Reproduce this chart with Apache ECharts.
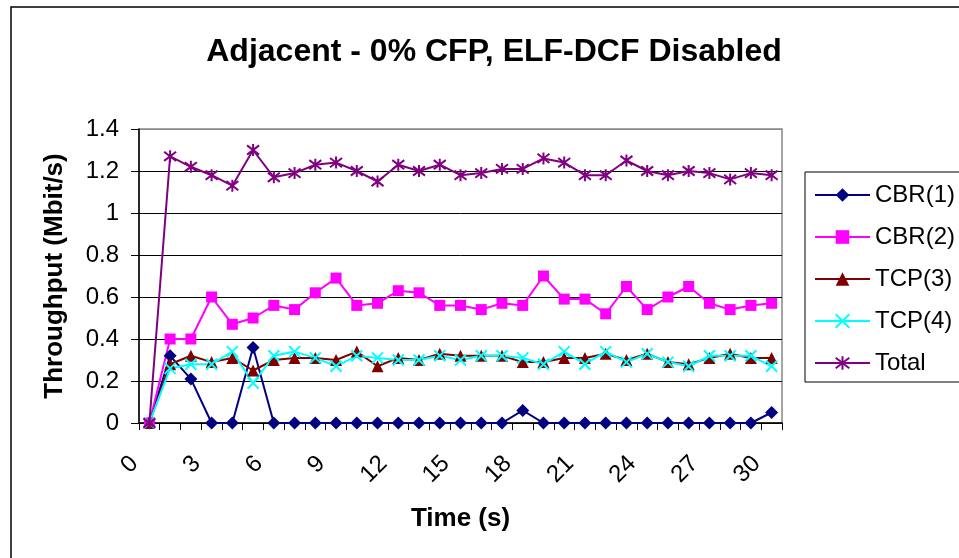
<!DOCTYPE html>
<html>
<head>
<meta charset="utf-8">
<script src="https://cdn.jsdelivr.net/npm/echarts@6/dist/echarts.min.js"></script>
<style>
html,body{margin:0;padding:0;background:#fff;}
#chart{width:959px;height:558px;}
</style>
</head>
<body>
<div id="chart"></div>
<script>
var categories = ['0','1','2','3','4','5','6','7','8','9','10','11','12','13','14','15','16','17','18','19','20','21','22','23','24','25','26','27','28','29','30'];
var yTicks = [0, 0.2, 0.4, 0.6, 0.8, 1, 1.2, 1.4];
var cbr1 = [0,0.32,0.21,0,0,0.36,0,0,0,0,0,0,0,0,0,0,0,0,0.06,0,0,0,0,0,0,0,0,0,0,0,0.05];
var cbr2 = [0,0.40,0.40,0.60,0.47,0.50,0.56,0.54,0.62,0.69,0.56,0.57,0.63,0.62,0.56,0.56,0.54,0.57,0.56,0.70,0.59,0.59,0.52,0.65,0.54,0.60,0.65,0.57,0.54,0.56,0.57];
var tcp3 = [0,0.28,0.32,0.29,0.31,0.25,0.30,0.31,0.31,0.30,0.34,0.27,0.31,0.30,0.33,0.32,0.32,0.32,0.29,0.29,0.31,0.31,0.33,0.30,0.33,0.29,0.28,0.31,0.33,0.31,0.31];
var tcp4 = [0,0.26,0.28,0.28,0.34,0.19,0.32,0.34,0.31,0.27,0.32,0.31,0.30,0.30,0.32,0.30,0.32,0.32,0.31,0.28,0.34,0.28,0.34,0.29,0.33,0.29,0.27,0.32,0.32,0.32,0.27];
var total = [0,1.27,1.22,1.18,1.13,1.30,1.17,1.19,1.23,1.24,1.20,1.15,1.23,1.20,1.23,1.18,1.19,1.21,1.21,1.26,1.24,1.18,1.18,1.25,1.20,1.18,1.20,1.19,1.16,1.19,1.18];

var FONT = 'Liberation Sans, Arial, sans-serif';
var xMark = 'path://M0,0L10,10M10,0L0,10';
var starMark = 'path://M0,0L10,10M10,0L0,10M5,-1.5L5,11.5';

function lineSeries(name, data, color, symbol, size, stroke) {
  return {
    name: name,
    type: 'line',
    data: data,
    symbol: symbol,
    symbolSize: size,
    showAllSymbol: true,
    animation: false,
    lineStyle: { color: color, width: 2 },
    itemStyle: stroke ? { color: color, borderColor: color, borderWidth: 2 } : { color: color, borderWidth: 0 },
    emphasis: { disabled: true }
  };
}

var chart = echarts.init(document.getElementById('chart'));
chart.setOption({
  backgroundColor: '#fff',
  animation: false,
  textStyle: { fontFamily: FONT, color: '#000' },
  title: {
    text: 'Adjacent - 0% CFP, ELF-DCF Disabled',
    left: 489,
    textAlign: 'center',
    top: 31,
    textStyle: { fontFamily: FONT, fontSize: 32, fontWeight: 'bold', color: '#000' }
  },
  graphic: [{
    type: 'rect',
    shape: { x: 11, y: 7, width: 1100, height: 700 },
    style: { fill: 'none', stroke: '#000', lineWidth: 1.5 },
    silent: true,
    z: 0
  }],
  legend: {
    orient: 'vertical',
    left: 805,
    top: 172,
    padding: [11, 30, 7, 9],
    itemWidth: 55,
    itemHeight: 17,
    itemGap: 18,
    borderColor: '#000',
    borderWidth: 1,
    textStyle: { fontFamily: FONT, fontSize: 24, color: '#000', lineHeight: 24 },
    data: ['CBR(1)', 'CBR(2)', 'TCP(3)', 'TCP(4)', 'Total']
  },
  grid: {
    left: 139, right: 177, top: 129, bottom: 135,
    show: true, borderColor: '#888', borderWidth: 1.5, backgroundColor: 'transparent'
  },
  xAxis: {
    type: 'category',
    data: categories,
    boundaryGap: true,
    name: 'Time (s)',
    nameLocation: 'middle',
    nameGap: 83,
    nameTextStyle: { fontFamily: FONT, fontSize: 26, fontWeight: 'bold', color: '#000' },
    axisLine: { lineStyle: { color: '#000', width: 1.5 } },
    axisTick: { show: true, interval: 0, length: 7, lineStyle: { color: '#000', width: 1 } },
    axisLabel: {
      interval: 2, rotate: 45, margin: 22, padding: [0, 21, 0, 0],
      fontFamily: FONT, fontSize: 24, color: '#000'
    },
    splitLine: { show: false }
  },
  yAxis: {
    type: 'value',
    min: 0, max: 1.4, interval: 0.2,
    name: 'Throughput (Mbit/s)',
    nameLocation: 'middle',
    nameGap: 71,
    nameTextStyle: { fontFamily: FONT, fontSize: 26, fontWeight: 'bold', color: '#000' },
    axisLine: { show: true, lineStyle: { color: '#000', width: 1.5 } },
    axisTick: { show: true, length: 8, lineStyle: { color: '#000', width: 1 } },
    axisLabel: {
      margin: 20, fontFamily: FONT, fontSize: 24, color: '#000',
      formatter: function (v) { return String(Math.round(v * 10) / 10); }
    },
    splitLine: { show: true, lineStyle: { color: ['#000','#000','#000','#000','#000','#000','#000','#888'], width: 1 } }
  },
  series: [
    lineSeries('CBR(1)', cbr1, '#000080', 'diamond', 13, false),
    lineSeries('CBR(2)', cbr2, '#FF00FF', 'rect', 11, false),
    lineSeries('TCP(3)', tcp3, '#800000', 'triangle', 12, false),
    lineSeries('TCP(4)', tcp4, '#00FFFF', xMark, 11, true),
    lineSeries('Total', total, '#800080', starMark, 12, true)
  ]
});
</script>
</body>
</html>
